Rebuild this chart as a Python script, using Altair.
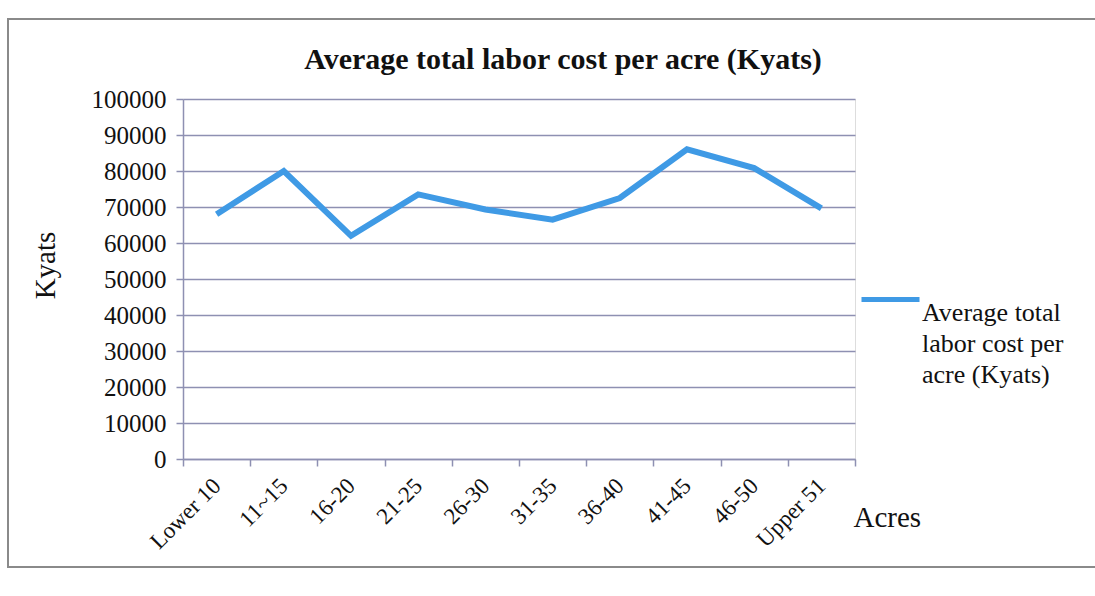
import altair as alt
import pandas as pd

categories = ["Lower 10", "11~15", "16-20", "21-25", "26-30", "31-35", "36-40", "41-45", "46-50", "Upper 51"]
values = [68000, 80000, 62000, 73500, 69300, 66500, 72500, 86000, 80800, 69600]
series_name = "Average total labor cost per acre (Kyats)"
y_ticks = [0, 10000, 20000, 30000, 40000, 50000, 60000, 70000, 80000, 90000, 100000]

df = pd.DataFrame({"Acres": categories, "Kyats": values, "series": [series_name] * len(categories)})

FONT = "Liberation Serif"
GRID = "#8e90b2"
LINE = "#3f9ae5"

frame = alt.Chart(pd.DataFrame({"f": [0]})).mark_rect(
    fill=None, stroke="#8a8a8a", strokeWidth=2
).encode(
    x=alt.value(-175), x2=alt.value(915), y=alt.value(-80), y2=alt.value(468)
)

line = alt.Chart(df).mark_line(strokeWidth=6, strokeJoin="miter").encode(
    x=alt.X(
        "Acres:N",
        sort=categories,
        scale=alt.Scale(type="band", paddingInner=0, paddingOuter=0),
        axis=alt.Axis(
            title="Acres",
            titleX=670, titleY=58, titleAlign="left", titleBaseline="middle", titleAngle=0,
            titleFont=FONT, titleFontSize=29, titleFontWeight="normal", titleColor="#111",
            labelAngle=-45, labelFont=FONT, labelFontSize=23, labelColor="#111",
            labelPadding=16, labelAlign="right", labelBaseline="middle",
            tickBand="extent", tickSize=7, tickColor=GRID, tickWidth=1.5,
            domainColor=GRID, domainWidth=1.5, grid=False,
        ),
    ),
    y=alt.Y(
        "Kyats:Q",
        scale=alt.Scale(domain=[0, 100000], nice=False),
        axis=alt.Axis(
            title="Kyats",
            titleX=-138, titleY=166, titleAlign="center", titleBaseline="middle", titleAngle=-90,
            titleFont=FONT, titleFontSize=29, titleFontWeight="normal", titleColor="#111",
            values=y_ticks, format="d",
            labelFont=FONT, labelFontSize=25, labelColor="#111", labelPadding=10,
            tickSize=7, tickColor=GRID, tickWidth=1.5,
            domainColor=GRID, domainWidth=1.5,
            grid=True, gridColor=GRID, gridWidth=1.5,
        ),
    ),
    color=alt.Color(
        "series:N",
        scale=alt.Scale(range=[LINE]),
        legend=alt.Legend(
            title=None, orient="none", legendX=676, legendY=169,
            symbolType="stroke", symbolSize=3364, symbolStrokeWidth=5,
            labelFont=FONT, labelFontSize=26, labelColor="#111",
            labelBaseline="top", labelLimit=400, labelOffset=0,
            labelExpr="['Average total', 'labor cost per', 'acre (Kyats)']",
        ),
    ),
)

chart = alt.layer(frame, line).properties(
    width=672,
    height=360,
    autosize=alt.AutoSizeParams(type="none"),
    padding={"left": 183, "top": 99, "right": 240, "bottom": 137},
    title=alt.TitleParams(
        text="Average total labor cost per acre (Kyats)",
        font=FONT, fontSize=30, fontWeight="bold", color="#111",
        anchor="middle", frame="group", dx=44, offset=-57,
    ),
).configure_view(stroke=None).configure(
    background="white",
    style={"guide-label": {"lineHeight": 31}},
)

chart.save("out.html", embed_options={"renderer": "svg", "actions": False})
